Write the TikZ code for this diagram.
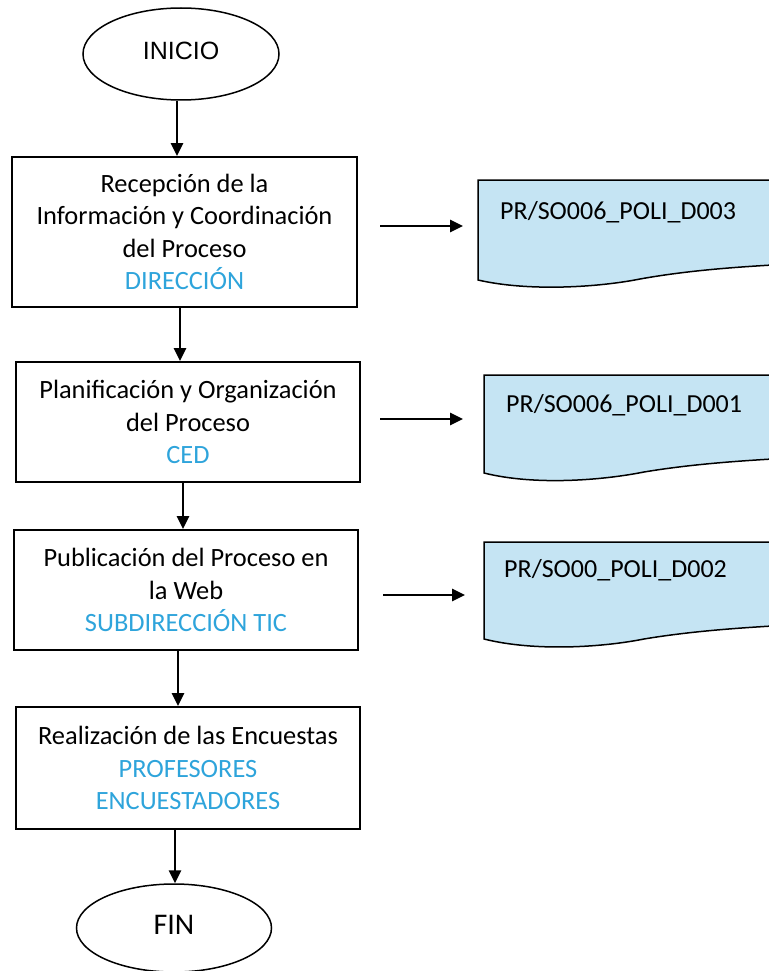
\documentclass[tikz,border=0pt]{standalone}
\usepackage{fontspec}
\setmainfont{Carlito}
\newfontfamily\arialfont{Liberation Sans}
\usetikzlibrary{shapes.geometric,arrows.meta}
\definecolor{roleblue}{RGB}{46,164,219}
\definecolor{docfill}{RGB}{197,228,243}
\tikzset{
  procbox/.style={draw, line width=1.8pt, rectangle, align=center, font=\fontsize{26.4}{32.5}\selectfont, inner sep=0pt},
  term/.style={draw, line width=1.5pt, ellipse, inner sep=0pt},
  arr/.style={line width=2.6pt, -{Triangle[length=13pt,width=12pt]}},
  docshape/.style={draw, line width=1.5pt, fill=docfill},
  doctext/.style={anchor=west, font=\fontsize{26}{30}\selectfont, inner sep=0pt}
}
\begin{document}
\begin{tikzpicture}[x=1pt,y=-1pt]
\useasboundingbox (0,0) rectangle (768,971);
% terminals
\node[term, minimum width=196pt, minimum height=92pt, font=\arialfont\fontsize{25}{28}\selectfont] (inicio) at (181,54) {\raisebox{6pt}{INICIO}};
\node[term, minimum width=195pt, minimum height=88pt, font=\fontsize{30}{34}\selectfont] (fin) at (174,928) {\raisebox{7pt}{FIN}};
% process boxes
\node[procbox, minimum width=345pt, minimum height=150pt] (b1) at (184.5,232)
  {Recepción de la\\Información y Coordinación\\del Proceso\\\textcolor{roleblue}{DIRECCIÓN}};
\node[procbox, minimum width=344pt, minimum height=120pt] (b2) at (188,422)
  {Planificación y Organización\\del Proceso\\\textcolor{roleblue}{CED}};
\node[procbox, minimum width=344pt, minimum height=120pt] (b3) at (186,590)
  {Publicación del Proceso en\\la Web\\\textcolor{roleblue}{SUBDIRECCIÓN TIC}};
\node[procbox, minimum width=344pt, minimum height=122pt] (b4) at (188,768)
  {Realización de las Encuestas\\\textcolor{roleblue}{PROFESORES}\\\textcolor{roleblue}{ENCUESTADORES}};
% vertical connectors
\draw[arr] ([xshift=-4pt]inicio.south) -- ([xshift=-7.5pt]b1.north);
\draw[arr] ([xshift=-4.5pt]b1.south) -- ([xshift=-8pt]b2.north);
\draw[arr] ([xshift=-5pt]b2.south) -- ([xshift=-3pt]b3.north);
\draw[arr] ([xshift=-8pt]b3.south) -- ([xshift=-10pt]b4.north);
\draw[arr] ([xshift=-13pt]b4.south) -- ([xshift=1pt]fin.north);
% documents
\draw[docshape] (478,180) -- (772,180) -- (772,265)
  .. controls (740,267) and (690,270) .. (640,279)
  .. controls (600,287) and (530,292) .. (478,280) -- cycle;
\draw[docshape] (484,375) -- (772,375) -- (772,459)
  .. controls (740,461) and (692,464) .. (644,472)
  .. controls (604,480) and (536,486) .. (484,473) -- cycle;
\draw[docshape] (484,542) -- (772,542) -- (772,626)
  .. controls (740,628) and (692,631) .. (644,639)
  .. controls (604,647) and (536,652) .. (484,639) -- cycle;
\node[doctext] (d1) at (500,212) {PR/SO006\_POLI\_D003};
\node[doctext] (d2) at (506,405) {PR/SO006\_POLI\_D001};
\node[doctext] (d3) at (504,570) {PR/SO00\_POLI\_D002};
% side arrows
\coordinate (s1) at (380,226); \coordinate (e1) at (463,226);
\coordinate (s2) at (380,419); \coordinate (e2) at (463,419);
\coordinate (s3) at (383,595); \coordinate (e3) at (465,595);
\draw[arr] (s1) -- (e1);
\draw[arr] (s2) -- (e2);
\draw[arr] (s3) -- (e3);
\end{tikzpicture}
\end{document}
